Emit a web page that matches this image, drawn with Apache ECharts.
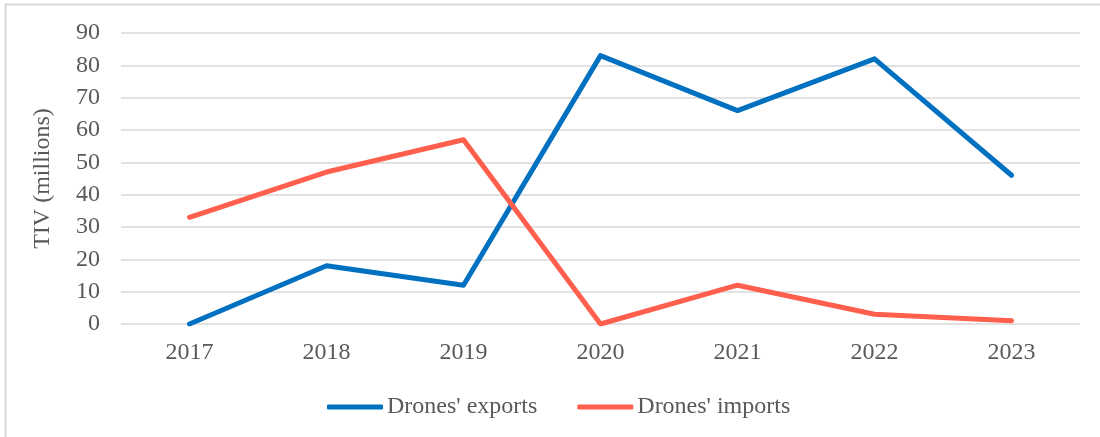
<!DOCTYPE html>
<html>
<head>
<meta charset="utf-8">
<script src="https://cdn.jsdelivr.net/npm/echarts@6/dist/echarts.min.js"></script>
<style>
  html, body { margin: 0; padding: 0; background: #fff; }
  #chart { width: 1100px; height: 437px; }
</style>
</head>
<body>
<div id="chart"></div>
<script>
  // data
  const years = ['2017', '2018', '2019', '2020', '2021', '2022', '2023'];
  const exportsTiv = [0, 18, 12, 83, 66, 82, 46];
  const importsTiv = [33, 47, 57, 0, 12, 3, 1];

  const chart = echarts.init(document.getElementById('chart'));

  const font = 'Liberation Serif, Times New Roman, serif';

  chart.setOption({
    animation: false,
    textStyle: { fontFamily: font },
    graphic: [
      {
        type: 'polyline',
        silent: true,
        shape: { points: [[5.5, 437], [5.5, 4.5], [1100, 4.5]] },
        style: { stroke: '#d9d9d9', lineWidth: 2, fill: null }
      }
    ],
    grid: { left: 121, right: 20, top: 33, bottom: 113 },
    legend: {
      top: 390,
      left: 322,
      itemWidth: 56,
      itemHeight: 5,
      itemGap: 40,
      icon: 'roundRect',
      textStyle: { fontFamily: font, fontSize: 24, color: '#595959', padding: [0, 0, 0, -1] },
      data: ["Drones' exports", "Drones' imports"]
    },
    xAxis: {
      type: 'category',
      data: years,
      boundaryGap: true,
      axisLine: { show: false },
      axisTick: { show: false },
      axisLabel: { fontFamily: font, fontSize: 24, color: '#595959', margin: 17 }
    },
    yAxis: {
      type: 'value',
      min: 0,
      max: 90,
      interval: 10,
      name: 'TIV (millions)',
      nameLocation: 'middle',
      nameGap: 66,
      nameTextStyle: { fontFamily: font, fontSize: 24, color: '#595959' },
      axisLine: { show: false },
      axisTick: { show: false },
      axisLabel: { fontFamily: font, fontSize: 24, color: '#595959', margin: 21 },
      splitLine: { lineStyle: { color: '#d9d9d9', width: 1.5 } }
    },
    series: [
      {
        name: "Drones' exports",
        type: 'line',
        data: exportsTiv,
        symbol: 'none',
        color: '#0070C0',
        lineStyle: { width: 5, cap: 'round', join: 'round' }
      },
      {
        name: "Drones' imports",
        type: 'line',
        data: importsTiv,
        symbol: 'none',
        color: '#FF5F4C',
        lineStyle: { width: 5, cap: 'round', join: 'round' }
      }
    ]
  });
</script>
</body>
</html>
